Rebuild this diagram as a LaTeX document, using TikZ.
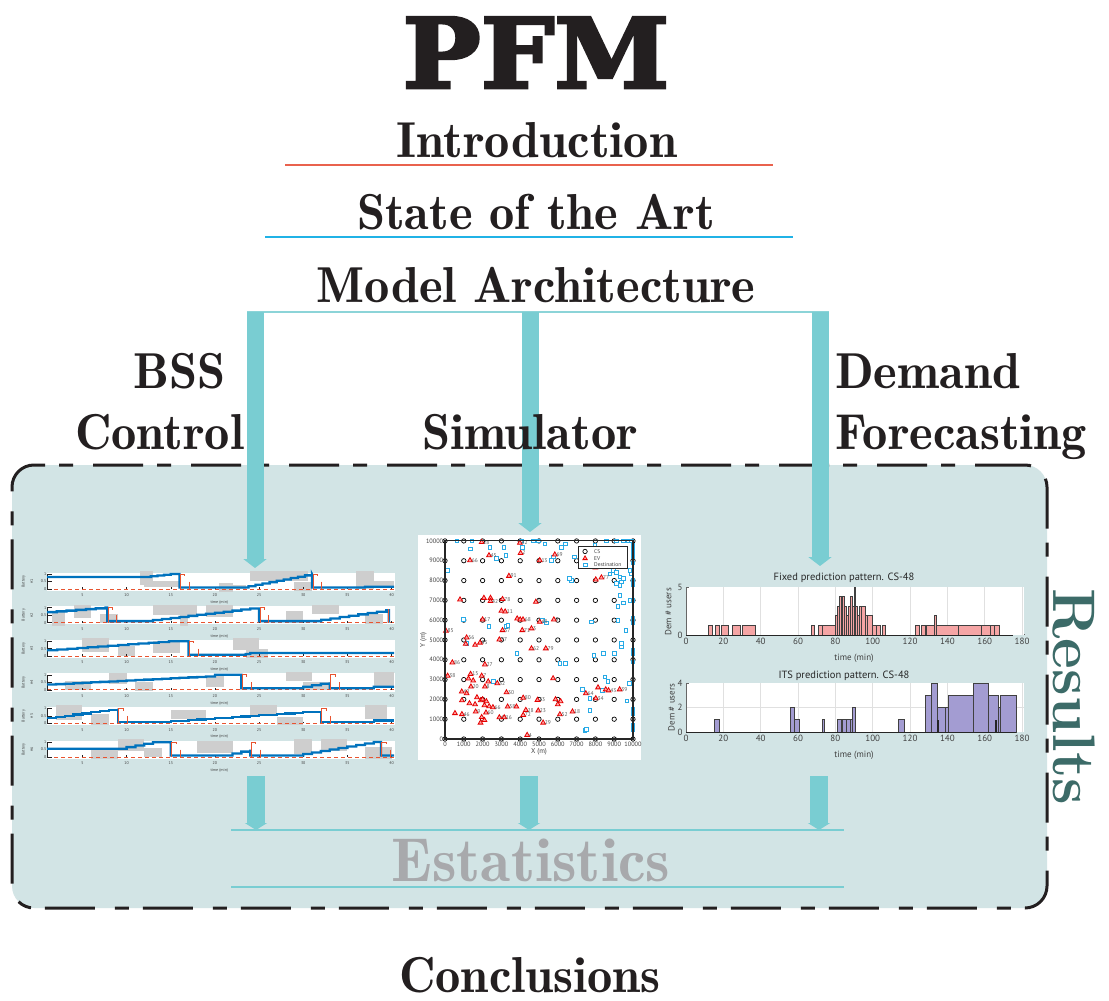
\documentclass[tikz,border=0pt]{standalone}
\usepackage{fontspec}
\usepackage{graphicx}
\usetikzlibrary{arrows.meta,shapes.geometric}
\newfontfamily\pfmfont{DejaVu Serif}[BoldFeatures={FakeBold=3}]
\newfontfamily\headfont{lmromandemi10-regular.otf}
\newfontfamily\plotfont{PT Sans}

\definecolor{teal1}{RGB}{121,205,210}
\definecolor{tealthin}{RGB}{140,212,216}
\definecolor{boxfill}{RGB}{210,228,229}
\definecolor{resteal}{RGB}{60,107,104}
\definecolor{redrule}{RGB}{233,98,78}
\definecolor{bluerule}{RGB}{32,178,230}
\definecolor{statgray}{RGB}{168,169,172}
\definecolor{ink}{RGB}{35,31,32}
\definecolor{mblue}{RGB}{0,114,189}
\definecolor{mred}{RGB}{232,84,48}
\definecolor{blockgray}{RGB}{206,206,206}
\definecolor{pinkbar}{RGB}{245,165,165}
\definecolor{lavbar}{RGB}{163,156,210}
\definecolor{destblue}{RGB}{40,170,230}

\tikzset{
  heading/.style={font=\headfont\fontsize{50.5}{58}\selectfont, text=ink, inner sep=0pt},
  bigarrow/.style={draw=teal1, line width=17pt, -{Triangle[width=23pt,length=9pt]}},
  shortarrow/.style={draw=teal1, line width=18pt, -{Triangle[width=22pt,length=7pt]}},
  tealrule/.style={draw=teal1, line width=2.4pt},
  panel/.style={draw=ink, fill=boxfill, line width=3pt, rounded corners=22pt,
    dash pattern=on 50pt off 20pt on 14pt off 14pt},
  tinytick/.style={font=\plotfont\fontsize{4}{5}\selectfont, text=black!75, inner sep=0.3pt},
  scattick/.style={font=\plotfont\fontsize{6.3}{7}\selectfont, text=black!75, inner sep=0.5pt},
  evlabel/.style={font=\plotfont\fontsize{5.5}{6}\selectfont, text=black!65, inner sep=0pt, xshift=-0.5pt},
  bartick/.style={font=\plotfont\fontsize{9}{11}\selectfont, text=black!75, inner sep=0.5pt},
  bartitle/.style={font=\plotfont\fontsize{10.5}{12}\selectfont, text=black!85, inner sep=0pt},
  blueline/.style={draw=mblue, line width=2.3pt, line join=miter},
  evmark/.style={regular polygon, regular polygon sides=3, draw=red!90!black, fill=red!35,
    line width=0.8pt, inner sep=0pt, minimum size=5.5pt},
  csmark/.style={circle, draw=black, line width=0.7pt, inner sep=0pt, minimum size=4.4pt},
  destmark/.style={rectangle, draw=destblue, fill=white, line width=0.6pt, inner sep=0pt, minimum size=3.6pt},
  barbox/.style={draw=black!75, line width=0.9pt},
}

% static parts of one battery subplot, in (time, level) units
\newcommand\bssaxes[1]{%
  \draw[mred, line width=1pt, dash pattern=on 4pt off 3pt] (1,0) -- (40.3,0);
  \draw[ink, line width=0.6pt] (1,0) -- (1,1) -- (1.6,1);
  \foreach \v in {0,0.5} \draw[ink, line width=0.5pt] (1,\v) -- (1.5,\v);
  \node[tinytick, anchor=east] at (0.95,1) {1};
  \node[tinytick, anchor=east] at (0.95,0.5) {0.5};
  \node[tinytick, anchor=east] at (0.95,0) {0};
  \foreach \t in {5,10,...,40} {
    \draw[ink, line width=0.4pt] (\t,0) -- (\t,0.12);
    \node[tinytick] at (\t,-0.42) {\t};
  }
  \node[tinytick] at (20.5,-0.9) {time (min)};
  \node[tinytick, rotate=90] at (-1.65,0.5) {Battery};
  \node[tinytick, rotate=90] at (-0.75,0.5) {\##1};
}
\newcommand\bsswhite{\fill[white] (1,-0.12) rectangle (40.4,1.1);}
\newcommand\redmark[1]{%
  \draw[mred, line width=0.8pt] (#1+0.1,0) -- (#1+0.1,1) -- (#1+0.6,1) -- (#1+0.6,0.85);
  \draw[mred, line width=0.8pt] (#1+1.1,0.5) -- (#1+1.1,0);
}

\begin{document}
\begin{tikzpicture}[x=1pt, y=-1pt]
\useasboundingbox (0,0) rectangle (1109,1001);
\fill[white] (0,0) rectangle (1109,1001);

% ---------- results panel ----------
\node[panel, minimum width=1035pt, minimum height=443pt, inner sep=0pt] (results) at (529.5,686.5) {};

% ---------- architecture arrows (behind the headings) ----------
\coordinate (bssTop) at (255,312);
\coordinate (simTop) at (530,312);
\coordinate (demTop) at (820,312);
\coordinate (bssIn) at (255,568);
\coordinate (simIn) at (530,532);
\coordinate (demIn) at (820,566);
\coordinate (busL) at (247,312);
\coordinate (busR) at (829,312);
\draw[draw=tealthin, line width=2pt] (busL) -- (busR);
\draw[bigarrow] (bssTop) -- (bssIn);
\draw[bigarrow] (simTop) -- (simIn);
\draw[bigarrow] (demTop) -- (demIn);

% ---------- outline of the talk ----------
\node[inner sep=0pt, anchor=base, text=ink, font=\pfmfont\bfseries\fontsize{97}{100}\selectfont] (title) at (536,88) {\scalebox{1.07}[1]{PFM}};
\node[heading, anchor=base] (intro) at (537,157) {Introduction};
\draw[redrule, line width=1.6pt] (285,165) -- (773,165);
\node[heading, anchor=base] (sota) at (536,229) {State of the Art};
\draw[bluerule, line width=1.6pt] (265,237) -- (793,237);
\node[heading, anchor=base] (arch) at (536,302) {Model Architecture};

\node[heading, anchor=base west] (bss1) at (133,388) {BSS};
\node[heading, anchor=base west] (bss2) at (75,449) {Control};
\node[heading, anchor=base] (sim) at (530,449) {Simulator};
\node[heading, anchor=base west] (dem1) at (835,388) {Demand};
\node[heading, anchor=base west] (dem2) at (835,449) {Forecasting};

\node[font=\rmfamily\bfseries\fontsize{60}{70}\selectfont, text=resteal, rotate=-90, anchor=base, inner sep=0pt] (reslabel) at (1053,697) {Results};

% ----- BSS control: six battery subplots -----
\begin{scope}[shift={(38.3,589)}, x=8.83pt, y=15pt]
  \bsswhite
  \foreach \a/\b/\c/\d in {11.5/13/0.3/1.2, 12/16/0.15/0.55, 20.5/22/-0.2/0.4, 22/23.5/0/0.3, 24/30.5/0.55/1.2, 29/31/-0.1/0.5, 36/38/0/1.2, 38/40.3/0.2/0.55}
    \fill[blockgray] (\a,\c) rectangle (\b,\d);
  \bssaxes{1}
  \draw[blueline] (1,0.8) -- (12,0.8) foreach \k in {1,...,4}{ -- ++(0.75,0) -- ++(0,0.05)} -- (16,1) -- (16,0.1) -- (23,0.1)
    foreach \k in {1,...,10}{ -- ++(0.8,0) -- ++(0,0.09)} -- (31,1) -- (31,0.1) -- (37,0.1) -- (37,0.15) -- (40.3,0.15);
  \redmark{16} \redmark{31}
\end{scope}
\begin{scope}[shift={(38.3,622.6)}, x=8.83pt, y=15pt]
  \bsswhite
  \foreach \a/\b/\c/\d in {1.5/3/-0.2/0.7, 4/6/0.3/1.2, 7/9/0/0.6, 13/18/0.5/1.2, 16/17/-0.2/0.5, 19/22/0.4/1.2, 28/30/0/0.8, 31/34/0.6/1.2, 37/39/-0.1/0.6}
    \fill[blockgray] (\a,\c) rectangle (\b,\d);
  \bssaxes{2}
  \draw[blueline] (1,0.7) foreach \k in {1,...,6}{ -- ++(1.1,0) -- ++(0,0.05)} -- (7.8,1) -- (7.8,0.1) -- (12,0.1)
    foreach \k in {1,...,13}{ -- ++(1,0) -- ++(0,0.07)} -- (25,1) -- (25,0.1) -- (31,0.1)
    foreach \k in {1,...,8}{ -- ++(1.05,0) -- ++(0,0.09)} -- (39.7,0.82) -- (39.7,0);
  \redmark{7.8} \redmark{25} \draw[mred, line width=0.8pt] (39.6,0) -- (39.6,0.9);
\end{scope}
\begin{scope}[shift={(38.3,656.2)}, x=8.83pt, y=15pt]
  \bsswhite
  \foreach \a/\b/\c/\d in {5/8/0.3/1.2, 9/11/0/0.7, 13/16/0.2/1.0, 22/25/0.4/1.2, 23.5/26/-0.1/0.5}
    \fill[blockgray] (\a,\c) rectangle (\b,\d);
  \bssaxes{3}
  \draw[blueline] (1,0.4) foreach \k in {1,...,12}{ -- ++(1.15,0) -- ++(0,0.05)} -- (17,1) -- (17,0.1) -- (23.5,0.1) -- (23.5,0.15) -- (24,0.15) -- (24,0.22) -- (40.3,0.22);
  \redmark{17}
\end{scope}
\begin{scope}[shift={(38.3,689.8)}, x=8.83pt, y=15pt]
  \bsswhite
  \foreach \a/\b/\c/\d in {3/6/0/0.6, 8/10/0.4/1.1, 11/13/-0.1/0.5, 19/21/0.2/0.9, 28/31/0.6/1.2, 30/33/0/0.5, 38/40.3/0.2/1.2}
    \fill[blockgray] (\a,\c) rectangle (\b,\d);
  \bssaxes{4}
  \draw[blueline] (1,0.35) foreach \k in {1,...,18}{ -- ++(1,0) -- ++(0,0.03)} -- (20,0.89) -- (20,1) -- (23,1) -- (23,0.1) -- (29,0.1)
    foreach \k in {1,...,4}{ -- ++(1,0) -- ++(0,0.1)} -- (33,0.5) -- (33,0.1) -- (38,0.1) -- (38,0.2) -- (40.3,0.2);
  \redmark{23} \redmark{33}
\end{scope}
\begin{scope}[shift={(38.3,723.4)}, x=8.83pt, y=15pt]
  \bsswhite
  \foreach \a/\b/\c/\d in {2/5/0.2/1.2, 6/8/-0.1/0.6, 15/19/0.3/0.9, 24/27/0.5/1.2, 27/30/-0.1/0.4, 37/39.5/0.3/1.2}
    \fill[blockgray] (\a,\c) rectangle (\b,\d);
  \bssaxes{5}
  \draw[blueline] (1,0.35) foreach \k in {1,...,8}{ -- ++(1,0) -- ++(0,0.08)} -- (9,0.99) -- (9,0.1) -- (14,0.1)
    foreach \k in {1,...,18}{ -- ++(1,0) -- ++(0,0.04)} -- (32,0.82) -- (32,0.1) -- (38,0.1) -- (38,0.2) -- (40.3,0.2);
  \redmark{9} \redmark{32}
\end{scope}
\begin{scope}[shift={(38.3,757)}, x=8.83pt, y=15pt]
  \bsswhite
  \foreach \a/\b/\c/\d in {6/9/-0.1/0.5, 9/12/0.4/1.2, 12/14/0/0.6, 18/22/0.3/1.1, 29/31/0.2/1.2, 32/35/0.4/1.2, 37/40/-0.1/0.7}
    \fill[blockgray] (\a,\c) rectangle (\b,\d);
  \bssaxes{6}
  \draw[blueline] (1,0.55) -- (9,0.55) foreach \k in {1,...,4}{ -- ++(1,0) -- ++(0,0.11)} -- (15,0.99) -- (15,0.1) -- (21,0.1)
    foreach \k in {1,...,3}{ -- ++(1,0) -- ++(0,0.13)} -- (24,0.49) -- (24,0.1) -- (29,0.1)
    foreach \k in {1,...,9}{ -- ++(1,0) -- ++(0,0.1)} -- (38.8,1) -- (38.8,0.1) -- (40.3,0.1);
  \redmark{15} \redmark{24} \redmark{38.8}
\end{scope}

% ----- simulator: map of charging stations, EVs and destinations -----
\fill[white] (418,535) rectangle (641,760);
\begin{scope}[shift={(445,739)}, x=0.0188pt, y=0.0198pt]
  \foreach \i in {0,...,10} \foreach \j in {0,...,10}
    \node[csmark] at (\i*1000,\j*1000) {};
  \foreach \X/\Y in {620/10000, 1420/10000, 4070/10000, 4690/10000, 4960/10000, 8580/10000, 9120/10000, 9470/10000, 9740/10000, 9910/10000,
    1330/9610, 2390/9690, 3130/9690, 4120/9690, 5310/9860, 6200/9690, 6410/9860, 7970/9780, 2740/9110, 3240/9270, 5660/9020, 5750/9190, 6870/9190,
    120/8520, 6730/8010, 6600/8100, 8760/8350, 8940/8520, 9120/8430, 9290/8180, 9470/8100, 9380/7930, 9120/7850, 9290/7760, 9820/8520, 9910/8350,
    9290/7260, 9200/6700, 9470/6870, 9820/6990, 970/6030, 2340/5700, 3240/5700, 3330/5750, 5190/6000, 5400/5860, 7790/5910, 9200/6000, 9610/5490,
    9380/4820, 9380/4650, 8410/4320, 7910/4230, 8990/4320, 6110/3810, 6410/3810, 3810/4320, 7700/1460, 7430/450, 7520/500, 7290/2520, 8500/3140,
    8670/2920, 9790/2800, 9680/1930, 8370/2470, 7700/2050, 1150/4820, 2580/2900,
    10000/9800, 10000/9600, 10000/9400, 10000/9200, 10000/8900, 10000/8000, 10000/7800, 10000/7000, 10000/6100, 10000/5900,
    10000/4500, 10000/4300, 10000/3900, 10000/1500, 10000/1300, 10000/700, 10000/500}
    \node[destmark] at (\X,\Y) {};
  \foreach \X/\Y/\L in {1950/9940/28, 3980/9900/82, 4020/9390/2, 2340/9270/45, 1330/9020/66, 5040/9020/13, 5840/9310/69, 3400/8230/91,
    8020/8050/, 8320/8150/77, 8000/8650/, 800/7040/, 2070/7120/, 2420/7120/, 2420/6960/42, 3060/7060/78, 4830/6920/1, 3000/6470/, 3200/6430/11,
    3840/6080/, 4000/6030/, 4150/6030/68, 5790/6030/9, 2000/6030/17, 5040/5910/48, 3060/5490/57, 4110/5490/71, 4600/5580/3, 50/5460/85,
    1150/5120/56, 1100/4800/, 1600/4750/, 1860/4860/35, 2890/5020/37, 4600/4570/62, 5360/4570/79, 390/3860/86, 2120/3760/27, 140/3190/38,
    1360/3280/15, 1250/3050/, 1500/2950/, 1950/3190/7, 2300/2900/, 2780/2810/32, 1380/2640/20, 2120/2640/8, 3270/2350/30, 890/2390/40,
    1150/2300/, 5750/3060/, 4160/2080/80, 4920/1970/33, 5880/2000/, 6150/1900/, 6000/1750/, 8140/2600/, 8550/2500/, 8700/2450/43, 7490/2300/64,
    8020/2050/34, 9290/2500/39, 900/1950/, 1300/1800/, 1600/1750/, 1900/1950/, 2100/1700/, 2350/1650/, 2550/1600/66, 3330/1630/58, 3800/1630/,
    4300/1460/28, 4960/1430/23, 4160/1210/72, 1630/1380/9, 530/1300/, 900/1250/46, 2180/1330/60, 1950/1100/, 2100/950/, 2890/1090/46,
    3150/1090/16, 1890/820/, 6110/1240/52, 6780/1380/18, 5220/820/29, 4370/200/4, 2000/2000/, 2200/1900/, 1700/2100/}
    \node[evmark, label={[evlabel]right:\L}] at (\X,\Y) {};
  \draw[black!85, line width=1.1pt] (0,0) rectangle (10000,10000);
  \foreach \v in {0,1000,...,10000} {
    \node[scattick, anchor=east] at (-60,\v) {\v};
    \node[scattick, anchor=north] at (\v,-120) {\v};
  }
  \node[scattick, font=\plotfont\fontsize{7}{8}\selectfont] at (5000,-650) {X (m)};
  \node[scattick, font=\plotfont\fontsize{7}{8}\selectfont, rotate=90] at (-1150,5000) {Y (m)};
  % legend
  \draw[black!85, fill=white, line width=0.6pt] (7070,9720) rectangle (9710,8600);
  \node[csmark] at (7450,9470) {};
  \node[evmark, minimum size=5pt] at (7450,9120) {};
  \node[destmark] at (7450,8790) {};
  \node[scattick, font=\plotfont\fontsize{5.5}{6}\selectfont, anchor=west] at (7900,9470) {CS};
  \node[scattick, font=\plotfont\fontsize{5.5}{6}\selectfont, anchor=west] at (7900,9120) {EV};
  \node[scattick, font=\plotfont\fontsize{5.5}{6}\selectfont, anchor=west] at (7900,8790) {Destination};
\end{scope}

% ----- demand forecasting: two demand histograms -----
\node[bartitle] (fixtitle) at (844,578) {Fixed prediction pattern. CS-48};
\begin{scope}[shift={(686,635)}, x=1.867pt, y=9.6pt]
  \fill[white] (0,0) rectangle (181,5);
  \foreach \t in {20,40,...,180} \draw[black!12, line width=0.7pt] (\t,0) -- (\t,5);
  \foreach \a/\b/\h in {12/14/1, 16/18/1, 19/23/1, 25/29/1, 30/37/1, 67/69/1, 71/73/1, 73/80/1, 80/81/2, 81/82/3, 82/83/4, 83/84/3,
    84/85/4, 85/86/3, 86/87/2, 87/88/3, 88/89/4, 89/90/3, 90/91/5, 91/92/3, 92/93/2, 93/94/3, 94/96/3, 96/97/2, 97/100/2, 100/102/1,
    102/104/1, 105/107/1, 123/125/1, 126/128/1, 129/133/1, 133/134/2, 134/146/1, 146/158/1, 158/163/1, 163/165/1, 165/168/1}
    \draw[barbox, fill=pinkbar] (\a,0) rectangle (\b,\h);
  \draw[black!85, line width=1pt] (0,0) -- (175,0);
  \draw[black!60, line width=0.5pt] (0,0) -- (0,5) (0,5) -- (1.5,5) (181,0) -- (181,0.15);
  \foreach \t in {0,20,...,180} \node[bartick, anchor=north] at (\t,-0.3) {\t};
  \node[bartick, anchor=east] at (-1.5,0) {0};
  \node[bartick, anchor=east] at (-1.5,5) {5};
  \node[bartick] at (90,-2.45) {time (min)};
  \node[bartick, rotate=90] at (-9.5,2.4) {Dem \# users};
\end{scope}
\node[bartitle] (itstitle) at (844,676) {ITS prediction pattern. CS-48};
\begin{scope}[shift={(686,732)}, x=1.867pt, y=12.2pt]
  \fill[white] (0,0) rectangle (181,4);
  \foreach \t in {20,40,...,180} \draw[black!12, line width=0.7pt] (\t,0) -- (\t,4);
  \draw[black!12, line width=0.7pt] (0,2) -- (181,2);
  \foreach \a/\b/\h in {15/18/1, 56/58/2, 58/61/1, 73/74/1, 81/83/1, 84/86/1, 86/88/1, 88/89/1, 89/91/2, 114/117/1,
    128/131.5/3, 131.5/134.5/4, 134.5/139/2, 139/140.5/2, 140.5/154/3, 154/162/4, 162/167.5/3, 167.5/168.5/2, 168.5/177/3}
    \draw[barbox, fill=lavbar] (\a,0) rectangle (\b,\h);
  \draw[black!85, line width=1.2pt] (135,0) -- (135,1) (166,0) -- (166,1);
  \draw[black!85, line width=1pt] (0,0) -- (177,0);
  \draw[black!60, line width=0.5pt] (0,0) -- (0,4) (0,4) -- (1.5,4);
  \foreach \t in {0,20,...,180} \node[bartick, anchor=north] at (\t,-0.22) {\t};
  \foreach \v in {0,2,4} \node[bartick, anchor=east] at (-1.5,\v) {\v};
  \node[bartick] at (90,-1.9) {time (min)};
  \node[bartick, rotate=90] at (-7.8,2) {Dem \# users};
\end{scope}

% ---------- statistics ----------
\coordinate (ruleAL) at (231,830);
\coordinate (ruleAR) at (844,830);
\coordinate (ruleBL) at (231,887);
\coordinate (ruleBR) at (844,887);
\coordinate (bssOut) at (256,776);
\coordinate (simOut) at (529,776);
\coordinate (demOut) at (819,776);
\coordinate (bssSt) at (256,830);
\coordinate (simSt) at (529,830);
\coordinate (demSt) at (819,830);
\draw[shortarrow] (bssOut) -- (bssSt);
\draw[shortarrow] (simOut) -- (simSt);
\draw[shortarrow] (demOut) -- (demSt);
\draw[tealrule] (ruleAL) -- (ruleAR);
\draw[tealrule] (ruleBL) -- (ruleBR);
\node[font=\headfont\fontsize{62}{70}\selectfont, text=statgray, anchor=base, inner sep=0pt] (stats) at (531,881) {Estatistics};

\node[heading, anchor=base] (concl) at (530,992) {Conclusions};
\end{tikzpicture}
\end{document}
